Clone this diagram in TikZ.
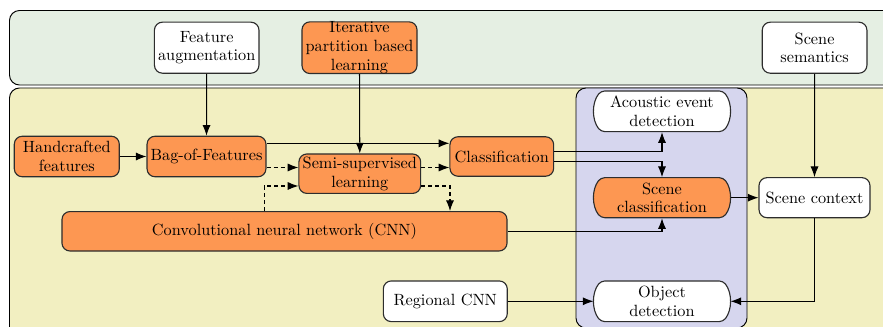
\documentclass[tikz,border=0pt]{standalone}
\usetikzlibrary{shapes.misc,arrows.meta}
\definecolor{boxorange}{RGB}{253,151,82}
\definecolor{panelgreen}{RGB}{229,239,227}
\definecolor{panelyellow}{RGB}{242,239,193}
\definecolor{panelblue}{RGB}{214,214,238}
\definecolor{edgegray}{RGB}{45,45,45}
% one drawing unit
\newdimen\pxu \pxu=0.639pt
\begin{document}
\begin{tikzpicture}[x=\pxu,y=-\pxu,
  font=\fontsize{10.4}{11.9}\selectfont,
  panel/.style={draw=black, line width=0.6pt, rounded corners=6.4pt},
  box/.style={draw=edgegray, line width=0.72pt, rounded corners=5.1pt, align=center, inner sep=0pt, text=black},
  ora/.style={box, fill=boxorange},
  wht/.style={box, fill=white},
  pill/.style={rounded rectangle, rounded rectangle arc length=75, rounded corners=2.5pt, draw=edgegray, line width=0.72pt, align=center, inner sep=0pt, text=black},
  link/.style={draw=black, line width=0.65pt, -{Latex[length=6.8pt,width=5.2pt]}},
  dlink/.style={link, dash pattern=on 2.56pt off 1.92pt}]
\useasboundingbox (0,0) rectangle (883,327);
\clip (0,0) rectangle (883,327);

% background panels
\draw[panel, fill=panelgreen] (9.5,10.5) rectangle (905,85);
\draw[panel, fill=panelyellow] (9.5,88) rectangle (905,345);
\draw[panel, fill=panelblue] (576,88) rectangle (747,328);

% top row
\node[wht, minimum width=66.8pt, minimum height=32.6pt] (fa) at (206.7,47.7) {Feature\\augmentation};
\node[ora, minimum width=73.5pt, minimum height=32.6pt] (ipl) at (359.5,47.7) {Iterative\\partition based\\learning};
\node[wht, minimum width=66.9pt, minimum height=32.6pt] (ss) at (814.6,47.7) {Scene\\semantics};

% processing chain
\node[ora, minimum width=67.1pt, minimum height=25.9pt] (hf) at (66.8,156.5) {Handcrafted\\features};
\node[ora, minimum width=76pt, minimum height=25.9pt] (bof) at (206.5,156.5) {Bag-of-Features};
\node[ora, minimum width=77.8pt, minimum height=25.2pt] (semi) at (359.8,173.7) {Semi-supervised\\learning};
\node[ora, minimum width=66.3pt, minimum height=25.2pt] (cls) at (501.8,156.5) {Classification};
\node[ora, minimum width=284.4pt, minimum height=25.2pt] (cnn) at (284.5,231.3) {Convolutional neural network (CNN)};
\node[wht, minimum width=79.2pt, minimum height=26pt] (rcnn) at (445.3,301.3) {Regional CNN};

% tasks
\node[pill, fill=white, minimum width=86.9pt, minimum height=26pt] (aed) at (662,111.3) {Acoustic event\\detection};
\node[pill, fill=boxorange, minimum width=86.9pt, minimum height=25.6pt] (sc) at (662,197.7) {Scene\\classification};
\node[pill, fill=white, minimum width=86.9pt, minimum height=26pt] (od) at (662,301.3) {Object\\detection};
\node[wht, minimum width=70.9pt, minimum height=25.6pt] (ctx) at (814.5,197.7) {Scene context};

% connectors
\draw[link] (fa.south) -- (bof.north);
\draw[link] (ipl.south) -- (semi.north);
\draw[link] (hf.east) -- (bof.west);
\draw[link] ([yshift=8.43pt]bof.east) -- ([yshift=8.43pt]cls.west);
\draw[dlink] ([yshift=-7.03pt]bof.east) -- ([yshift=-7.03pt]bof.east -| semi.west);
\draw[dlink] ([yshift=3.96pt]semi.east) -- ([yshift=3.96pt]semi.east -| cls.west);
\draw[dlink] ([xshift=-12.9pt]cnn.north) |- ([yshift=-7.86pt]semi.west);
\draw[dlink] ([yshift=-7.86pt]semi.east) -| ([xshift=105.75pt]cnn.north);
\draw[link] ([yshift=3.5pt]cls.east) -| (aed.south);
\draw[link] ([yshift=-2.9pt]cls.east) -| (sc.north);
\draw[link] (cnn.east) -| (sc.south);
\draw[link] (sc.east) -- (ctx.west);
\draw[link] (ss.south) -- (ctx.north);
\draw[link] (ctx.south) |- (od.east);
\draw[link] (rcnn.east) -- (od.west);
\end{tikzpicture}
\end{document}
